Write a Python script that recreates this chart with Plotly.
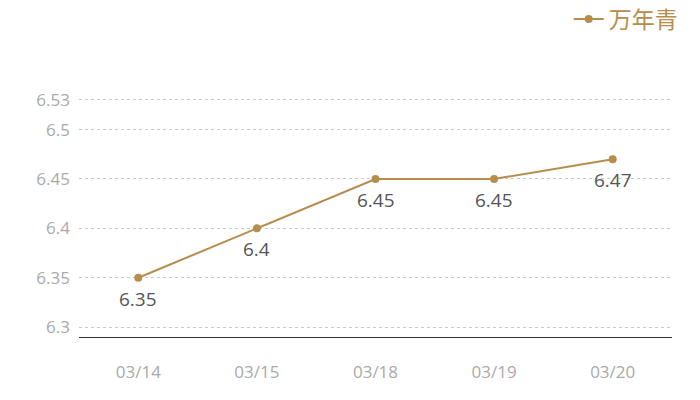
import plotly.graph_objects as go

dates = ["03/14", "03/15", "03/18", "03/19", "03/20"]
prices = [6.35, 6.40, 6.45, 6.45, 6.47]
price_labels = ["6.35", "6.4", "6.45", "6.45", "6.47"]
y_ticks = [6.3, 6.35, 6.4, 6.45, 6.5, 6.53]
y_tick_text = ["6.3", "6.35", "6.4", "6.45", "6.5", "6.53"]
series_name = "万年青"

gold = "#b68d4c"
font_family = "Open Sans, Noto Sans CJK SC, sans-serif"

fig = go.Figure()
fig.add_trace(go.Scatter(
    x=dates, y=prices, name=series_name,
    mode="lines+markers",
    line=dict(color=gold, width=2),
    marker=dict(color=gold, size=8),
    hoverinfo="skip",
))

for d, p, t in zip(dates, prices, price_labels):
    fig.add_annotation(x=d, y=p, text=t, showarrow=False, yshift=-21,
                       font=dict(color="#555555", size=19, family=font_family))

fig.update_layout(
    width=700, height=400,
    margin=dict(l=79, r=28, t=98, b=63, autoexpand=False),
    plot_bgcolor="white", paper_bgcolor="white",
    font=dict(family=font_family),
    showlegend=True,
    legend=dict(x=1.018, y=1.33, xanchor="right", yanchor="middle",
                font=dict(color=gold, size=23, family="Noto Sans CJK SC, sans-serif"),
                itemwidth=30, bgcolor="rgba(0,0,0,0)"),
    xaxis=dict(type="category", range=[-0.5, 4.5], showgrid=False,
               showline=True, linecolor="#333333", linewidth=1,
               ticks="", tickfont=dict(color="#aaaaaa", size=17), ticklabelstandoff=20),
    yaxis=dict(range=[6.29, 6.532], tickvals=y_ticks, ticktext=y_tick_text,
               showgrid=True, gridcolor="#c8c8c8", griddash="dot", gridwidth=1,
               zeroline=False, showline=False, ticks="",
               tickfont=dict(color="#aaaaaa", size=17), ticklabelstandoff=8),
)

fig.write_html("out.html", config={"displayModeBar": False},
               post_script="document.body.style.margin='0';")
